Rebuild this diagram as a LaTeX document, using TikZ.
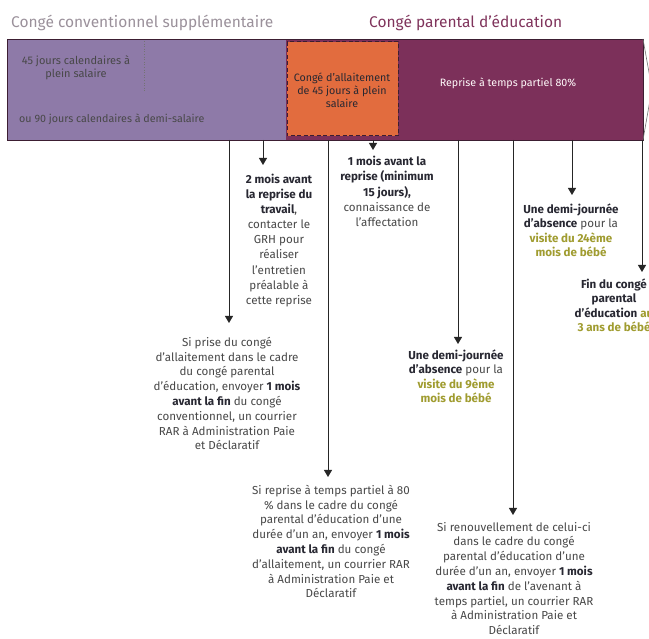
\documentclass[tikz,border=0pt]{standalone}
\usepackage{fontspec}
\setmainfont{Fira Sans}
\usetikzlibrary{arrows.meta}
\definecolor{purpleL}{RGB}{142,122,168}
\definecolor{orangeB}{RGB}{226,108,62}
\definecolor{maroon}{RGB}{124,48,90}
\definecolor{barline}{RGB}{60,30,50}
\definecolor{titleA}{RGB}{155,145,155}
\definecolor{titleB}{RGB}{128,52,92}
\definecolor{olive}{RGB}{160,156,48}
\definecolor{txt}{RGB}{72,72,72}
\definecolor{txtb}{RGB}{40,40,50}
\newcommand\bx[1]{\textbf{\color{txtb}#1}}
\newcommand\ol[1]{\textbf{\color{olive}#1}}
\tikzset{
  arr/.style={draw=black!85, line width=0.9pt, -{Triangle[length=7pt,width=8pt]}},
  note/.style={align=center, inner sep=0pt, anchor=north, text=txt,
    font=\fontsize{11.6}{14.8}\selectfont},
  bartxt/.style={align=center, inner sep=0pt, font=\fontsize{10.7}{12.8}\selectfont},
  titletxt/.style={inner sep=0pt, anchor=west, font=\fontsize{15.5}{18}\selectfont}
}
\begin{document}
\begin{tikzpicture}[x=1pt,y=-1pt]
\useasboundingbox (0,0) rectangle (649,639);
\clip (0,0) rectangle (649,639);
\fill[white] (0,0) rectangle (649,639);

% titles
\node[titletxt, text=titleA] (ttl1) at (11,23) {Congé conventionnel supplémentaire};
\node[titletxt, text=titleB] (ttl2) at (369,23) {Congé parental d’éducation};

% bar
\fill[purpleL] (7,39) rectangle (286,140);
\fill[maroon] (286,39) rectangle (643,140);
\fill[orangeB] (287,42) rectangle (398,136);
\draw[barline, line width=0.8pt] (7,39) rectangle (643,140);
\draw[barline, line width=1pt, dash pattern=on 4pt off 2.5pt] (287,42) rectangle (398,136);
\draw[black!55, dotted, line width=0.6pt] (144,41) -- (144,92);
\draw[black!55, line width=0.6pt] (643,39) -- (650,78) -- (650,100) -- (643,140);

\node[bartxt, text=txt, font=\fontsize{11}{12.8}\selectfont] (p1) at (76,68) {45 jours calendaires à\\plein salaire};
\node[bartxt, text=txt, anchor=west] (p2) at (19,119) {ou 90 jours calendaires à demi-salaire};
\node[bartxt, text=txtb, font=\fontsize{10.7}{13}\selectfont] (o1) at (342,90) {Congé d’allaitement\\de 45 jours à plein\\salaire};
\node[bartxt, text=white!92!pink] (m1) at (508,83) {Reprise à temps partiel 80\%};

% bar bottom points
\coordinate (b1) at (229,140);
\coordinate (b2) at (263,140);
\coordinate (b3) at (328,140);
\coordinate (b4) at (373,140);
\coordinate (b5) at (458,140);
\coordinate (b6) at (513,140);
\coordinate (b7) at (572,140);
\coordinate (b8) at (642,140);

% notes
\node[note, outer sep=14pt] (t1) at (227,323) {Si prise du congé\\d’allaitement dans le cadre\\du congé parental\\d’éducation, envoyer \bx{1 mois}\\\bx{avant la fin} du congé\\conventionnel, un courrier\\RAR à Administration Paie\\et Déclaratif};
\node[note, outer sep=9pt, font=\fontsize{11.6}{15.1}\selectfont] (t2) at (279,165) {\bx{2 mois avant}\\\bx{la reprise du}\\\bx{travail},\\contacter le\\GRH pour\\réaliser\\l’entretien\\préalable à\\cette reprise};
\node[note, outer sep=8pt] (t3) at (331,477) {Si reprise à temps partiel à 80\\\% dans le cadre du congé\\parental d’éducation d’une\\durée d’un an, envoyer \bx{1 mois}\\\bx{avant la fin} du congé\\d’allaitement, un courrier RAR\\à Administration Paie et\\Déclaratif};
\node[note, outer sep=6pt, font=\fontsize{11.6}{15.3}\selectfont] (t4) at (387,150) {\bx{1 mois avant la}\\\bx{reprise (minimum}\\\bx{15 jours),}\\connaissance de\\l’affectation};
\node[note, outer sep=6pt, font=\fontsize{11.6}{14.2}\selectfont] (t5) at (456,344) {\bx{Une demi-journée}\\\bx{d’absence} pour la\\\ol{visite du 9ème}\\\ol{mois de bébé}};
\node[note, outer sep=7pt] (t6) at (514,515) {Si renouvellement de celui-ci\\dans le cadre du congé\\parental d’éducation d’une\\durée d’un an, envoyer \bx{1 mois}\\\bx{avant la fin} de l’avenant à\\temps partiel, un courrier RAR\\à Administration Paie et\\Déclaratif};
\node[note, outer sep=9pt, font=\fontsize{11.6}{14.3}\selectfont] (t7) at (571,195) {\bx{Une demi-journée}\\\bx{d’absence} pour la\\\ol{visite du 24ème}\\\ol{mois de bébé}};
\node[note, outer sep=7pt, font=\fontsize{11.6}{14.3}\selectfont] (t8) at (614,272) {\bx{Fin du congé}\\\bx{parental}\\\bx{d’éducation} \ol{au}\\\ol{3 ans de bébé}};

% connectors
\draw[arr] (b1) -- (t1.north -| b1);
\draw[arr] (b2) -- (t2.north -| b2);
\draw[arr] (b3) -- (t3.north -| b3);
\draw[arr] (b4) -- (t4.north -| b4);
\draw[arr] (b5) -- (t5.north -| b5);
\draw[arr] (b6) -- (t6.north -| b6);
\draw[arr] (b7) -- (t7.north -| b7);
\draw[arr] (b8) -- (t8.north -| b8);
\end{tikzpicture}
\end{document}
